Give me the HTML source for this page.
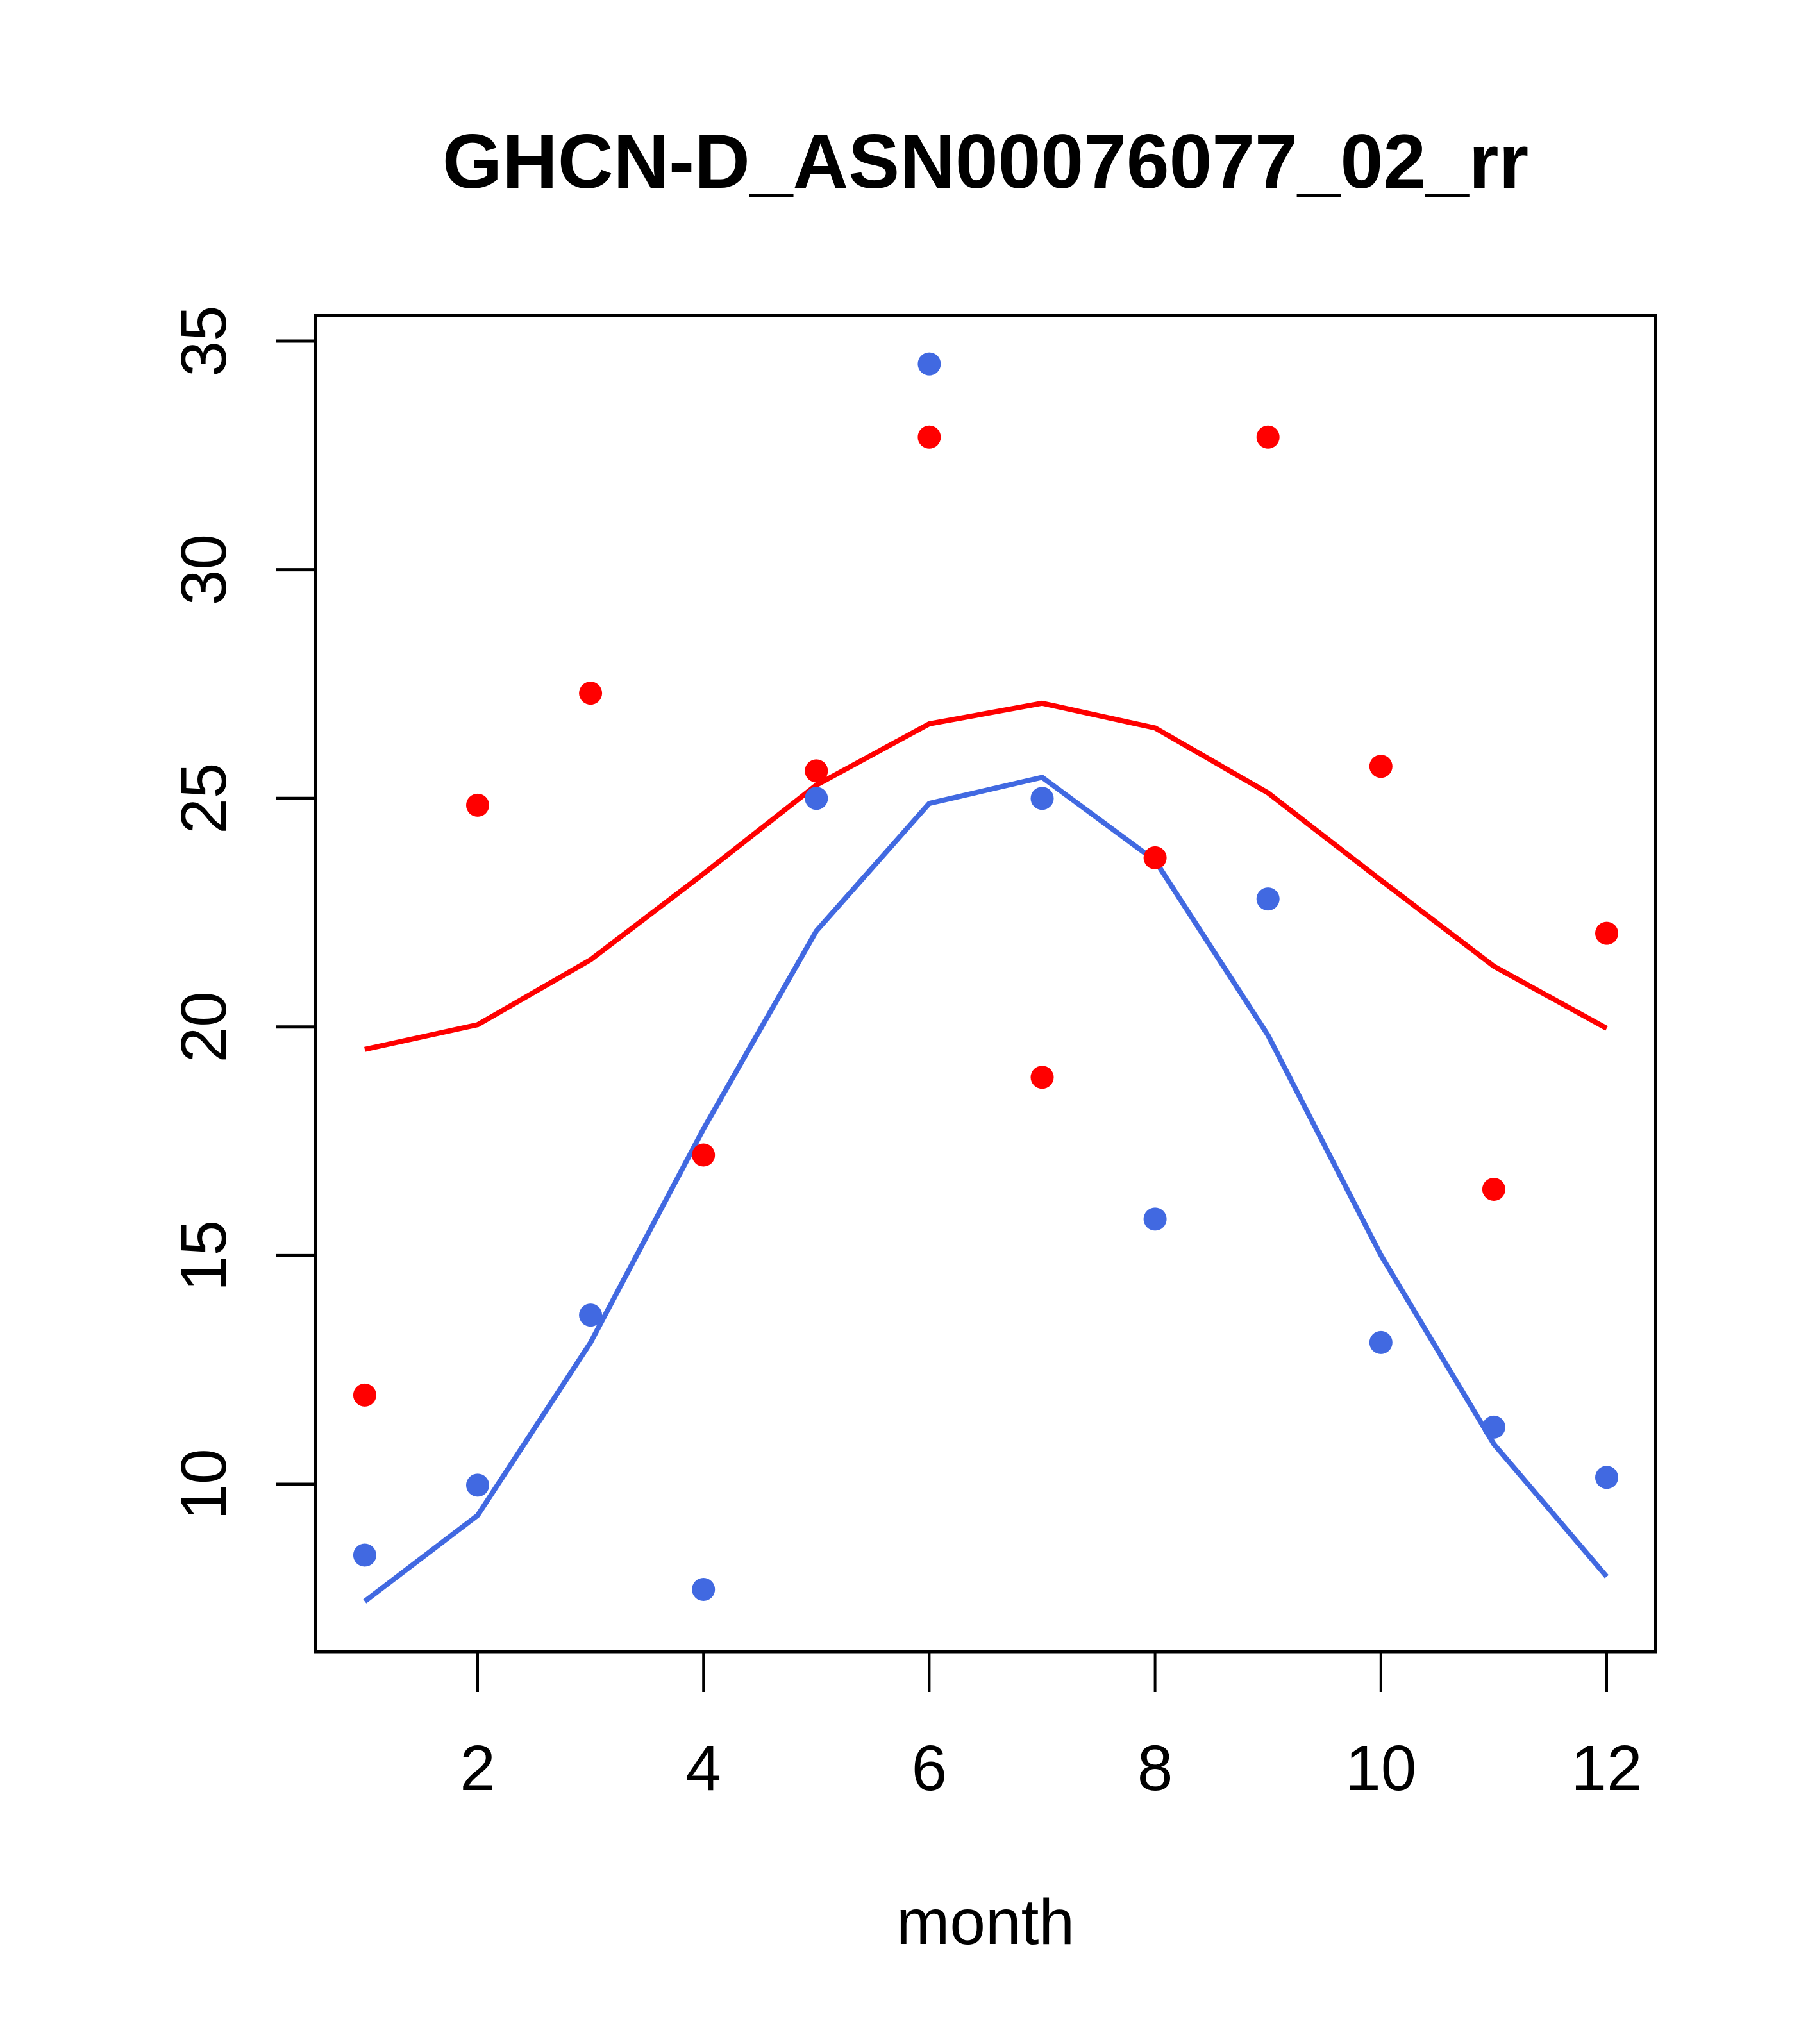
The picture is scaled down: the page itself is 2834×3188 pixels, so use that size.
<!DOCTYPE html>
<html><head><meta charset="utf-8"><style>
html,body{margin:0;padding:0;background:#fff}
svg{display:block}
text{font-family:"Liberation Sans",Arial,sans-serif}
</style></head><body>
<svg id="chart" width="2834" height="3188" viewBox="0 0 2834 3188" xmlns="http://www.w3.org/2000/svg">
<rect width="2834" height="3188" fill="#fff"/>
<text x="1537" y="293" font-size="120" font-weight="bold" text-anchor="middle">GHCN-D_ASN00076077_02_rr</text>
<g id="axes"></g>
<g id="marks"></g>
<rect x="492" y="492" width="2090" height="2084" fill="none" stroke="#000" stroke-width="5"/>
<text x="1537" y="3032" font-size="100" text-anchor="middle">month</text>
</svg>
<script>
const months=[1,2,3,4,5,6,7,8,9,10,11,12];
const redPoints=[11.95,24.85,27.3,17.2,25.6,32.9,18.9,23.7,32.9,25.7,16.45,22.05];
const bluePoints=[8.45,9.98,13.7,7.7,25.0,34.5,25.0,15.8,22.8,13.1,11.25,10.15];
const redLine=[19.51,20.05,21.47,23.35,25.29,26.63,27.08,26.54,25.12,23.21,21.33,19.97];
const blueLine=[7.44,9.32,13.1,17.77,22.1,24.89,25.46,23.64,19.82,15.01,10.88,7.98];
const xTicks=[2,4,6,8,10,12];
const yTicks=[10,15,20,25,30,35];
const NS="http://www.w3.org/2000/svg";
function xs(m){return 745+(m-2)*(2506-745)/10;}
function ys(v){return 532+(35-v)*(2315-532)/25;}
function mk(t,a,p){const e=document.createElementNS(NS,t);for(const k in a)e.setAttribute(k,a[k]);p.appendChild(e);return e;}
const axes=document.getElementById('axes'),marks=document.getElementById('marks');
xTicks.forEach(t=>{
  const l=mk('line',{x1:xs(t),x2:xs(t),y1:2576,y2:2639,stroke:'#000','stroke-width':4},axes);
  
  
  const tx=mk('text',{x:xs(t),y:2792,'font-size':100,'text-anchor':'middle'},axes);
  tx.textContent=t;
  
  
});
yTicks.forEach(t=>{
  const l=mk('line',{x1:430,x2:492,y1:ys(t),y2:ys(t),stroke:'#000','stroke-width':5},axes);
  
  
  const tx=mk('text',{x:0,y:0,'font-size':100,'text-anchor':'middle',transform:`translate(352,${ys(t)}) rotate(-90)`},axes);
  tx.textContent=t;
  
  
});
function line(vals,col,name){
  const p=mk('polyline',{points:vals.map((v,i)=>xs(months[i])+','+ys(v)).join(' '),fill:'none',stroke:col,'stroke-width':8,'stroke-linejoin':'round'},marks);
  
  
}
function pts(vals,col,name){
  vals.forEach((v,i)=>{
    const c=mk('circle',{cx:xs(months[i]),cy:ys(v),r:18,fill:col},marks);
    
    
  });
}
line(redLine,'#ff0000','red-line');
line(blueLine,'#4169e1','blue-line');
pts(redPoints,'#ff0000','red-point');
pts(bluePoints,'#4169e1','blue-point');
</script>
</body></html>
